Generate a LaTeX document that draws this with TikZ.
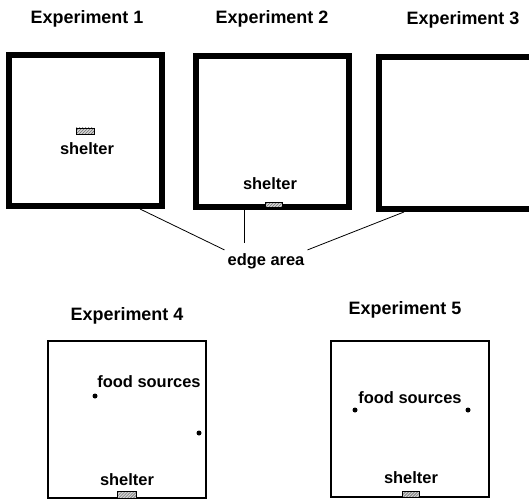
\documentclass[tikz,border=0pt]{standalone}
\usepackage{fontspec}
\setmainfont{Liberation Sans}
\usetikzlibrary{patterns}

\begin{document}
\begin{tikzpicture}[x=1bp,y=-1bp,
  title/.style={anchor=base,font=\fontsize{18}{20}\selectfont\bfseries},
  lbl/.style={anchor=base,font=\fontsize{16.5}{18}\selectfont\bfseries},
  wall/.style={line width=6bp},
  thinwall/.style={line width=1.2bp},
  shelterbox/.style={draw,line width=0.6bp,preaction={fill=gray!35},pattern=north east lines,pattern color=gray!70!black}]
  \clip (0,0) rectangle (529,500);
  \node[title] (t1) at (87,24) {Experiment 1};
  \node[title] (t2) at (272,24) {Experiment 2};
  \node[title] (t3) at (463,25) {Experiment 3};
  \node[title] (t4) at (127,320) {Experiment 4};
  \node[title] (t5) at (405,314) {Experiment 5};
  \draw[wall] (9,55) rectangle (162,206);
  \draw[wall] (196,56) rectangle (349,207);
  \draw[wall] (379,57) rectangle (545,209);
  \draw[thinwall] (48,341) rectangle (206,498);
  \draw[thinwall] (331,341) rectangle (489,497);
  \draw[shelterbox] (76,128) rectangle (94,134);
  \node[lbl] (s1) at (87,155) {shelter};
  \draw[shelterbox] (265,202) rectangle (282,207);
  \node[lbl] (s2) at (270,190) {shelter};
  \draw[shelterbox] (117,491) rectangle (136,498);
  \node[lbl] (s4) at (127,485) {shelter};
  \draw[shelterbox] (402,491) rectangle (419,497);
  \node[lbl] (s5) at (411,483) {shelter};
  \node[lbl] (f4) at (149,387) {food sources};
  \fill (95,396) circle (2.5); \fill (199,433) circle (2.5);
  \node[lbl] (f5) at (410,403) {food sources};
  \fill (355,410) circle (2.5); \fill (468,410) circle (2.5);
  \node[lbl,inner sep=3bp] (edge) at (266,265) {edge area};
  \coordinate (e1) at (140,209);
  \coordinate (e2) at (244,210);
  \coordinate (e3) at (404,212);
  \draw[line width=0.8bp] (e1) -- (edge.north west);
  \draw[line width=0.8bp,shorten >=7bp] (e2) -- (e2 |- edge.north);
  \draw[line width=0.8bp] (e3) -- (edge.north east);
\end{tikzpicture}
\end{document}
